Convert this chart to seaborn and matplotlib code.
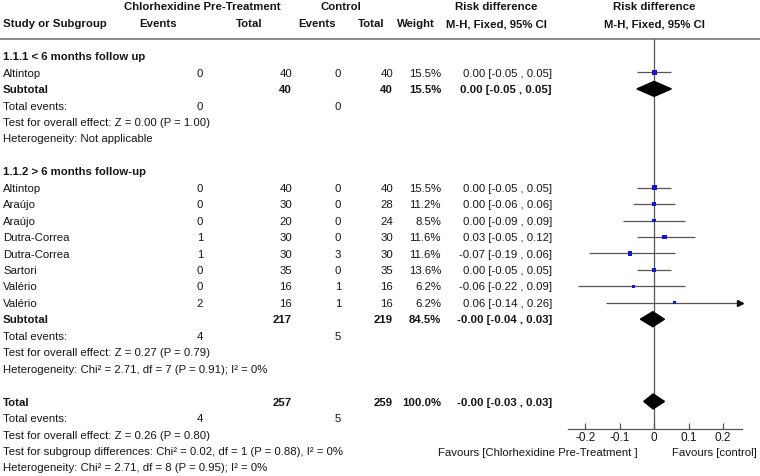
import numpy as np
import pandas as pd
import matplotlib.pyplot as plt
import seaborn as sns

# ---- data -------------------------------------------------------------
# 1.1.1 < 6 months follow up
g1_study = ["Altintop"]
g1_ev_t = [0]
g1_n_t = [40]
g1_ev_c = [0]
g1_n_c = [40]
g1_weight = [15.5]
g1_rd = [0.00]
g1_lo = [-0.05]
g1_hi = [0.05]

# 1.1.2 > 6 months follow-up
g2_study = ["Altintop", "Araújo", "Araújo", "Dutra-Correa", "Dutra-Correa",
            "Sartori", "Valério", "Valério"]
g2_ev_t = [0, 0, 0, 1, 1, 0, 0, 2]
g2_n_t = [40, 30, 20, 30, 30, 35, 16, 16]
g2_ev_c = [0, 0, 0, 0, 3, 0, 1, 1]
g2_n_c = [40, 28, 24, 30, 30, 35, 16, 16]
g2_weight = [15.5, 11.2, 8.5, 11.6, 11.6, 13.6, 6.2, 6.2]
g2_rd = [0.00, 0.00, 0.00, 0.03, -0.07, 0.00, -0.06, 0.06]
g2_lo = [-0.05, -0.06, -0.09, -0.05, -0.19, -0.05, -0.22, -0.14]
g2_hi = [0.05, 0.06, 0.09, 0.12, 0.06, 0.05, 0.09, 0.26]

# pooled rows: subtotal 1, subtotal 2, overall total
pooled_label = ["Subtotal", "Subtotal", "Total"]
pooled_n_t = [40, 217, 257]
pooled_n_c = [40, 219, 259]
pooled_weight = [15.5, 84.5, 100.0]
pooled_rd = [0.00, -0.004, -0.003]
pooled_lo = [-0.05, -0.04, -0.03]
pooled_hi = [0.05, 0.03, 0.03]
pooled_ev_t = [0, 4, 4]
pooled_ev_c = [0, 5, 5]
overall_test = ["Z = 0.00 (P = 1.00)", "Z = 0.27 (P = 0.79)", "Z = 0.26 (P = 0.80)"]
heterogeneity = ["Not applicable",
                 "Chi² = 2.71, df = 7 (P = 0.91); I² = 0%",
                 "Chi² = 2.71, df = 8 (P = 0.95); I² = 0%"]
subgroup_test = "Chi² = 0.02, df = 1 (P = 0.88), I² = 0%"

group_titles = ["1.1.1 < 6 months follow up", "1.1.2 > 6 months follow-up"]
x_ticks = [-0.2, -0.1, 0, 0.1, 0.2]
x_ticklabels = ["-0.2", "-0.1", "0", "0.1", "0.2"]
favours = ["Favours [Chlorhexidine Pre-Treatment ]", "Favours [control]"]

# ---- layout -------------------------------------------------------------
sns.set_theme(style="white")
plt.rcParams["font.family"] = ["Liberation Sans", "DejaVu Sans"]

W, H = 760, 476
PITCH, R0 = 16.45, 56
FS = 8.2
TXT = "#151515"
GREY = "#555555"
DY = 0.07  # small nudge so glyphs sit on the row centre


def row_of(px):
    return (px - R0) / PITCH


studies = pd.DataFrame({
    "study": g1_study + g2_study,
    "ev_t": g1_ev_t + g2_ev_t, "n_t": g1_n_t + g2_n_t,
    "ev_c": g1_ev_c + g2_ev_c, "n_c": g1_n_c + g2_n_c,
    "weight": g1_weight + g2_weight,
    "rd": g1_rd + g2_rd, "lo": g1_lo + g2_lo, "hi": g1_hi + g2_hi,
    "row": [1] + list(range(8, 8 + len(g2_study))),
})
pooled = pd.DataFrame({
    "label": pooled_label, "n_t": pooled_n_t, "n_c": pooled_n_c,
    "weight": pooled_weight, "rd": pooled_rd, "lo": pooled_lo, "hi": pooled_hi,
    "ev_t": pooled_ev_t, "ev_c": pooled_ev_c, "row": [2, 16, 21],
})

fig = plt.figure(figsize=(W / 100, H / 100), dpi=100)
tab = fig.add_axes([0, 0, 1, 1])
tab.set_xlim(0, W)
tab.set_ylim(row_of(H), row_of(0))
tab.axis("off")

# column anchors (px)
X_LAB, X_EVT, X_NT, X_EVC, X_NC, X_WT, X_CI = 3, 200, 292, 338, 393, 441, 552


def put(x, r, s, ha="left", bold=False):
    tab.text(x, r + DY, s, ha=ha, va="center", fontsize=FS, color=TXT,
             fontweight="bold" if bold else "normal")


def ci_text(rd, lo, hi):
    return f"{rd:.2f} [{lo:.2f} , {hi:.2f}]"


# header
hr1, hr2 = row_of(6), row_of(23)
put(202, hr1, "Chlorhexidine Pre-Treatment", "center", True)
put(341, hr1, "Control", "center", True)
put(496, hr1, "Risk difference", "center", True)
put(654, hr1, "Risk difference", "center", True)
put(X_LAB, hr2, "Study or Subgroup", "left", True)
put(158, hr2, "Events", "center", True)
put(262, hr2, "Total", "right", True)
put(317, hr2, "Events", "center", True)
put(385, hr2, "Total", "right", True)
put(416, hr2, "Weight", "center", True)
put(496, hr2, "M-H, Fixed, 95% CI", "center", True)
put(654, hr2, "M-H, Fixed, 95% CI", "center", True)
tab.plot([0, W], [row_of(39)] * 2, color="#8a8a8a", lw=1.4)

# group titles
put(X_LAB, 0, group_titles[0], bold=True)
put(X_LAB, 7, group_titles[1], bold=True)

# study rows
for _, s in studies.iterrows():
    put(X_LAB, s.row, s.study)
    put(X_EVT, s.row, str(s.ev_t), "center")
    put(X_NT, s.row, str(s.n_t), "right")
    put(X_EVC, s.row, str(s.ev_c), "center")
    put(X_NC, s.row, str(s.n_c), "right")
    put(X_WT, s.row, f"{s.weight:.1f}%", "right")
    put(X_CI, s.row, ci_text(s.rd, s.lo, s.hi), "right")

# pooled rows and their footnotes
for i, p in pooled.iterrows():
    r = p.row
    put(X_LAB, r, p.label, bold=True)
    put(X_NT, r, str(p.n_t), "right", True)
    put(X_NC, r, str(p.n_c), "right", True)
    put(X_WT, r, f"{p.weight:.1f}%", "right", True)
    put(X_CI, r, ci_text(p.rd, p.lo, p.hi), "right", True)
    put(X_LAB, r + 1, "Total events:")
    put(X_EVT, r + 1, str(p.ev_t), "center")
    put(X_EVC, r + 1, str(p.ev_c), "center")
    put(X_LAB, r + 2, "Test for overall effect: " + overall_test[i])
    if p.label == "Total":
        put(X_LAB, r + 3, "Test for subgroup differences: " + subgroup_test)
        put(X_LAB, r + 4, "Heterogeneity: " + heterogeneity[i])
    else:
        put(X_LAB, r + 3, "Heterogeneity: " + heterogeneity[i])

# ---- forest panel ------------------------------------------------------
fx0, fx1, fy0, fy1 = 568, 742, 39, 429
fa = fig.add_axes([fx0 / W, 1 - fy1 / H, (fx1 - fx0) / W, (fy1 - fy0) / H])
XMIN, XMAX = -0.25, 0.255
fa.set_xlim(XMIN, XMAX)
fa.set_ylim(row_of(fy1), row_of(fy0))
fa.patch.set_alpha(0)
for side in ["top", "left", "right"]:
    fa.spines[side].set_visible(False)
fa.spines["bottom"].set_color(GREY)
fa.spines["bottom"].set_linewidth(0.9)
fa.set_yticks([])
fa.set_xticks(x_ticks)
fa.set_xticklabels(x_ticklabels)
fa.tick_params(axis="x", bottom=True, direction="in", length=4, width=0.9,
               color=GREY, pad=2, labelsize=FS + 0.3, labelcolor=TXT)
fa.axvline(0, color=GREY, lw=0.9, zorder=1)

lo_c = studies["lo"].clip(lower=XMIN)
hi_c = studies["hi"].clip(upper=XMAX - 0.004)
fa.hlines(studies["row"], lo_c, hi_c, color=GREY, lw=0.9, zorder=2)
over = studies[studies["hi"] > XMAX]
fa.plot([XMAX - 0.006] * len(over), over["row"], linestyle="none", marker=">",
        ms=4, color="#111111", clip_on=False, zorder=3)

sns.scatterplot(data=studies, x="rd", y="row", size="weight",
                sizes=(5.0, 13.0), size_norm=(6.2, 15.5), marker="s",
                color="#1414d2", linewidth=0, legend=False, ax=fa, zorder=4)
fa.set_xlabel("")
fa.set_ylabel("")

half_h = 7.5 / PITCH
for _, p in pooled.iterrows():
    fa.fill([p.lo, p.rd, p.hi, p.rd], [p.row, p.row - half_h, p.row, p.row + half_h],
            color="black", zorder=4)

fr = row_of(452) + DY
tab.text(638, fr, favours[0], ha="right", va="center", fontsize=FS, color=TXT)
tab.text(672, fr, favours[1], ha="left", va="center", fontsize=FS, color=TXT)

fig.savefig("out.png", dpi=100)
